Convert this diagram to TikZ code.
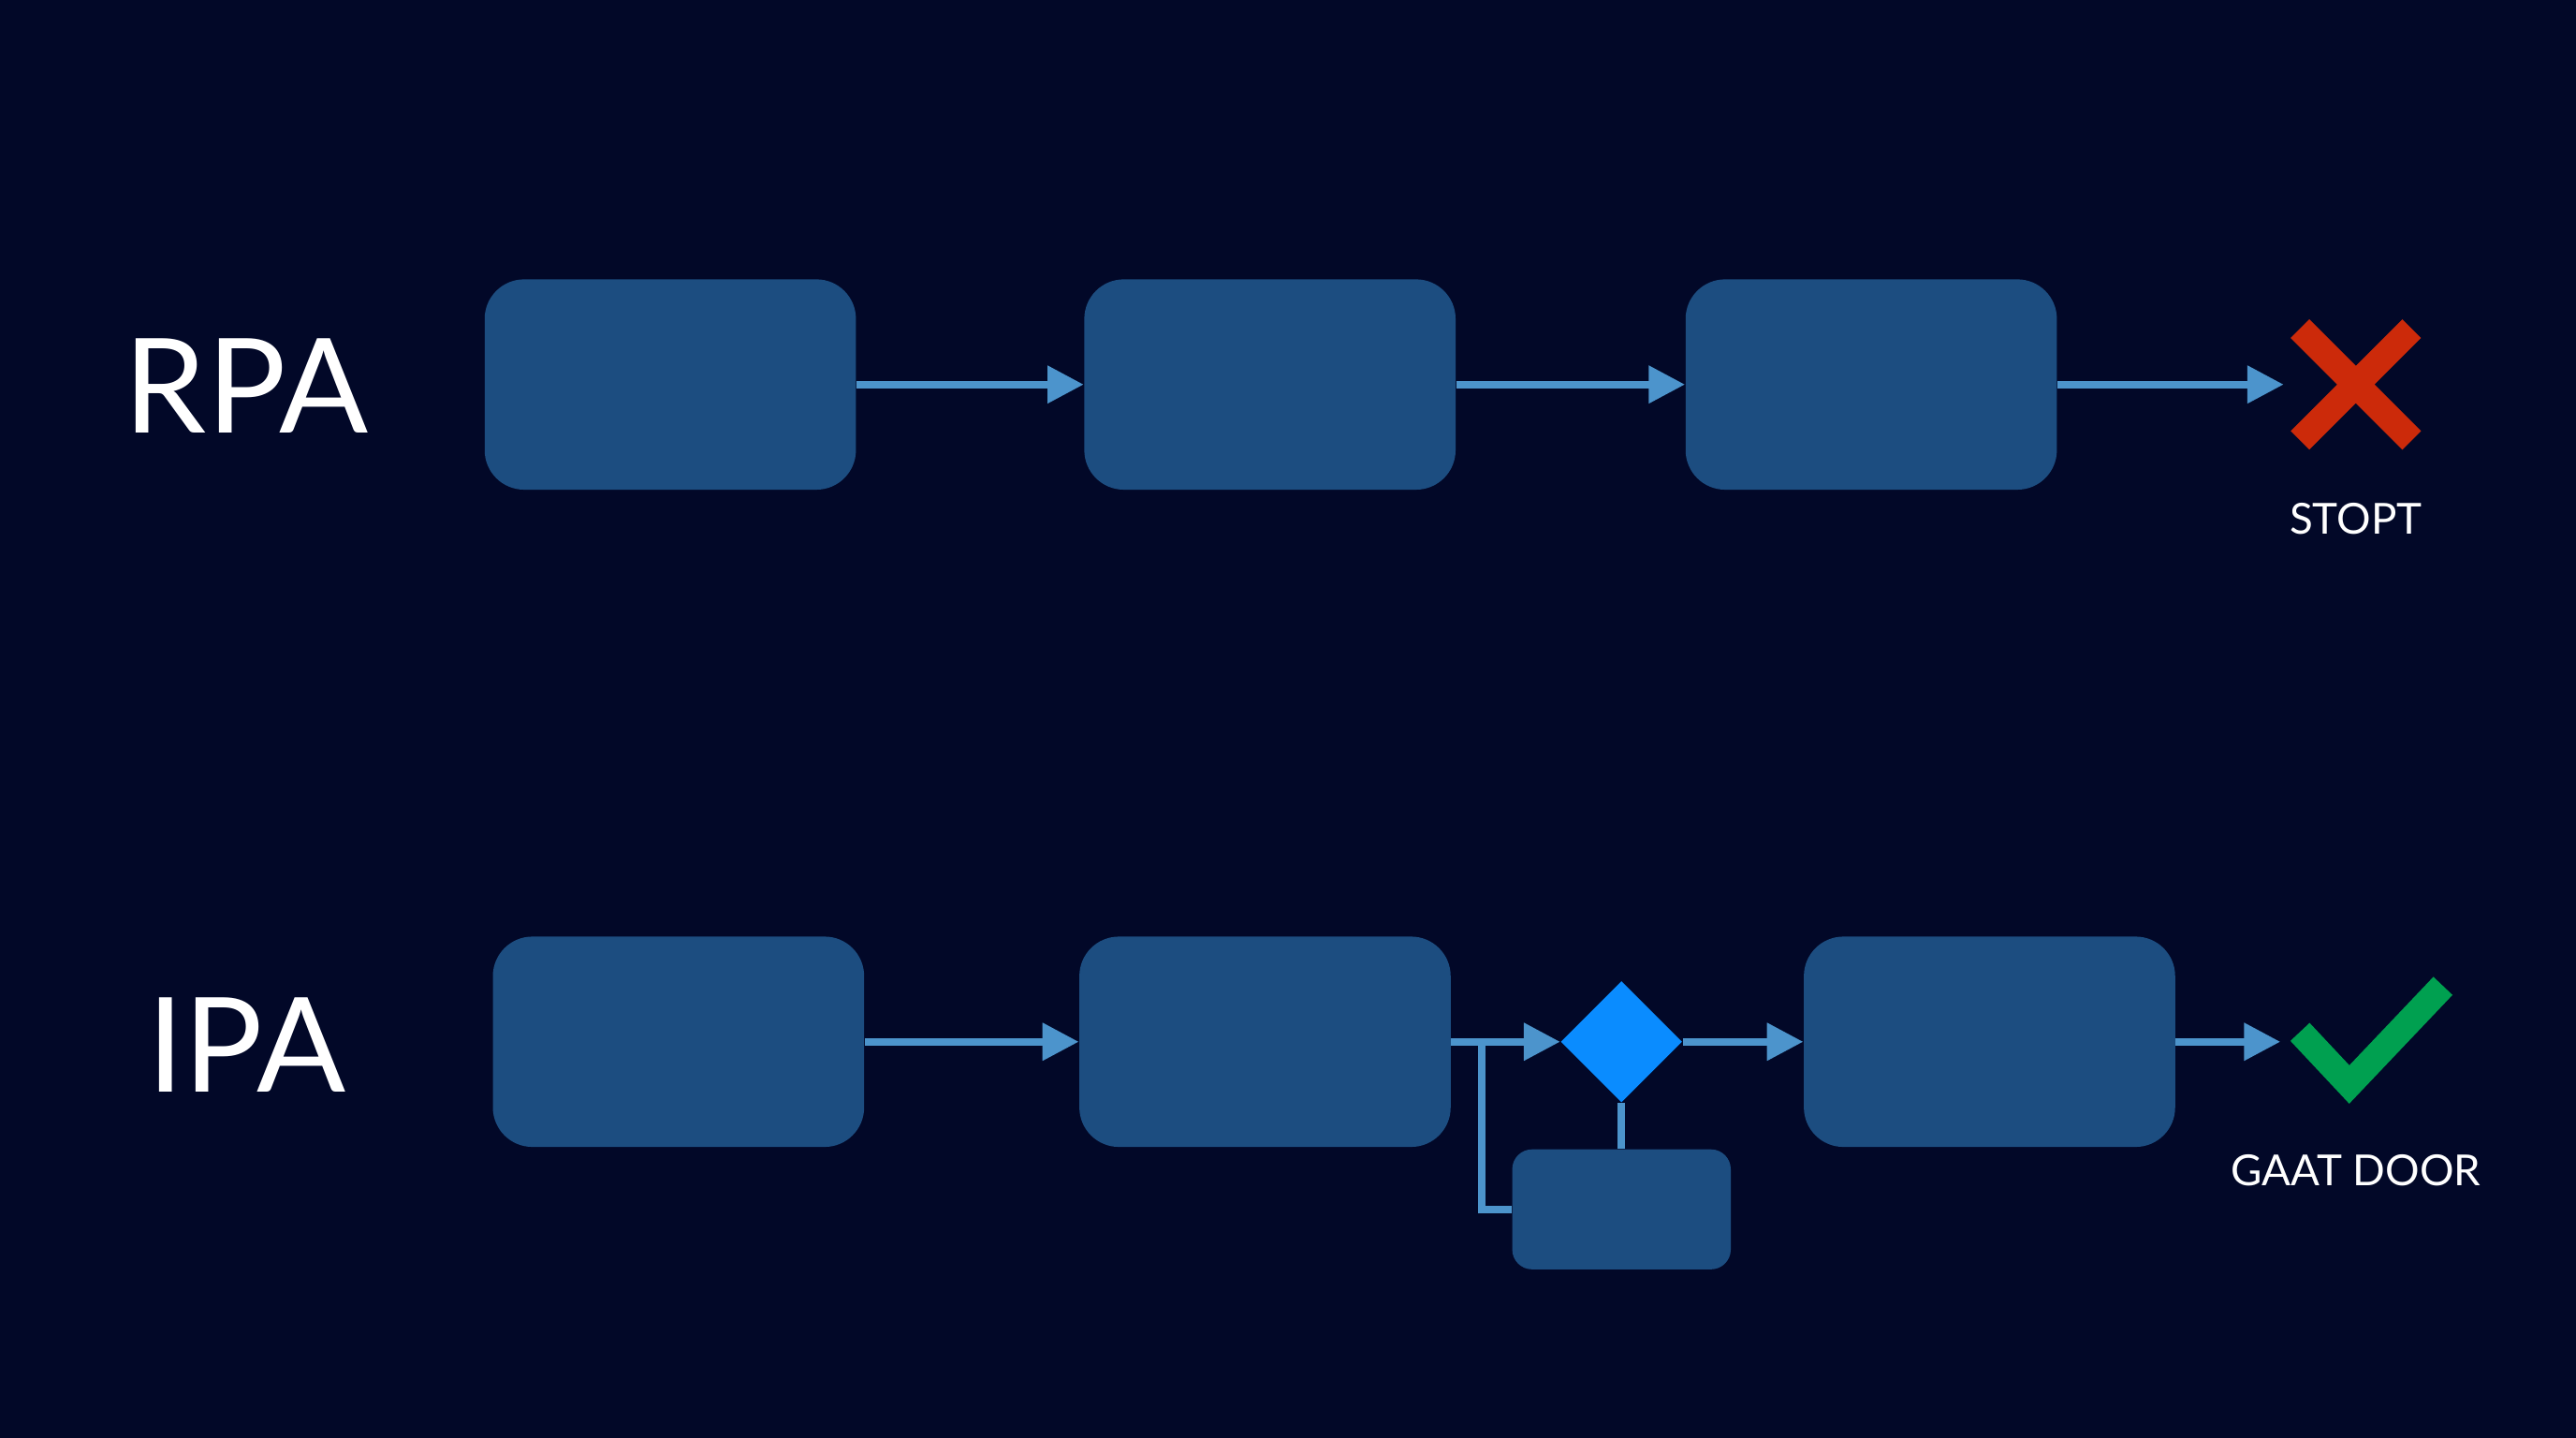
\documentclass[tikz,border=0pt]{standalone}
\usepackage{fontspec}
\setmainfont{Lato}
\usetikzlibrary{positioning,shapes.geometric,arrows.meta}
\definecolor{bgnavy}{HTML}{020828}
\definecolor{boxblue}{HTML}{1C4D80}
\definecolor{arrowblue}{HTML}{4C94CC}
\definecolor{diamondblue}{HTML}{0A8CFF}
\definecolor{stopred}{HTML}{CC2A0A}
\definecolor{okgreen}{HTML}{00A050}
\tikzset{
  stepbox/.style={fill=boxblue, rounded corners=12pt, minimum width=226*0.01755cm, minimum height=128*0.01755cm, inner sep=0pt},
  flow/.style={draw=arrowblue, line width=2.2pt, -{Triangle[length=11pt,width=11pt]}},
  link/.style={draw=arrowblue, line width=2.2pt},
  title/.style={text=white, font=\fontsize{40}{44}\selectfont},
  tag/.style={text=white, font=\fontsize{13}{15}\selectfont}
}
\begin{document}
\begin{tikzpicture}[x=0.01755cm,y=-0.01755cm]

    % Achtergrond
    \fill[bgnavy] (0,0) rectangle (1568,875);

    % RPA
    \node [title] (rpa) at (150,235) {RPA};
    \node [stepbox] (r1) at (408,234) {};
    \node [stepbox] (r2) at (773,234) {};
    \node [stepbox] (r3) at (1139,234) {};
    \coordinate (rend) at (1390,234);
    \draw[flow] (r1.east) -- (r2.west);
    \draw[flow] (r2.east) -- (r3.west);
    \draw[flow] (r3.east) -- (rend);
    \draw[stopred, line width=8pt] (1400,200) -- (1468,268) (1468,200) -- (1400,268);
    \node [tag] (stopt) at (1434,316) {STOPT};

    % IPA
    \node [title] (ipa) at (150,636) {IPA};
    \node [stepbox] (i1) at (413,634) {};
    \node [stepbox] (i2) at (770,634) {};
    \node [diamond, fill=diamondblue, minimum width=74*0.01755cm, minimum height=74*0.01755cm, inner sep=0pt] (check) at (987,634) {};
    \node [stepbox] (i3) at (1211,634) {};
    \node [stepbox, minimum width=133*0.01755cm, minimum height=73*0.01755cm, rounded corners=6pt] (side) at (987,736) {};
    \coordinate (iend) at (1388,634);
    \coordinate (split) at (902,634);
    \draw[flow] (i1.east) -- (i2.west);
    \draw[flow] (i2.east) -- (check.west);
    \draw[flow] (check.east) -- (i3.west);
    \draw[flow] (i3.east) -- (iend);
    \draw[link] (split) |- (side.west);
    \draw[link] (check.south) -- (side.north);
    \draw[okgreen, line width=8pt] (1400,628) -- (1430,660) -- (1487,600);
    \node [tag] (door) at (1434,712) {GAAT DOOR};

\end{tikzpicture}
\end{document}
